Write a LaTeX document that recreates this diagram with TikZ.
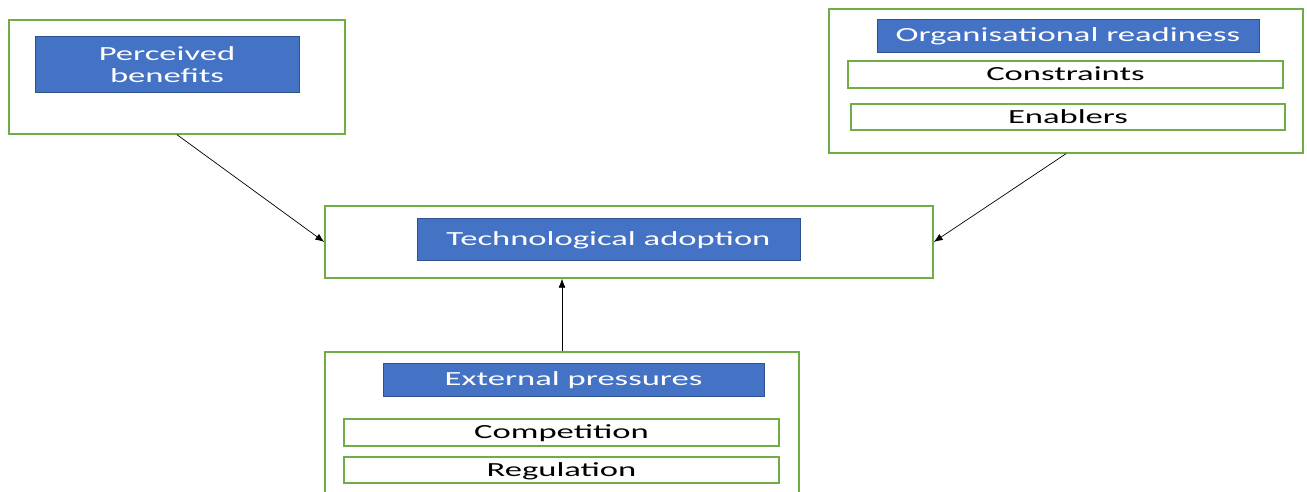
\documentclass[tikz,border=0pt]{standalone}
\usepackage{fontspec}
\newfontfamily\dfont[FakeStretch=1.73]{Carlito}
\usetikzlibrary{arrows.meta}
\definecolor{obox}{HTML}{70AD47}
\definecolor{bfill}{HTML}{4472C4}
\definecolor{bline}{HTML}{2F528F}
\tikzset{
  outerbox/.style={draw=obox, line width=1.4pt, fill=white, rectangle, inner sep=0pt},
  bluebox/.style={draw=bline, line width=0.6pt, fill=bfill, rectangle, inner sep=0pt, text=white,
    font=\dfont\fontsize{20}{22}\selectfont, text height=12.9pt, text depth=0pt},
  itembox/.style={draw=obox, line width=1.2pt, fill=white, rectangle, inner sep=0pt, text=black,
    font=\dfont\fontsize{20}{22}\selectfont, text height=12.9pt, text depth=0pt},
  conn/.style={draw=black, line width=0.7pt, -{Latex[length=9pt,width=7pt]}}
}
\begin{document}
\begin{tikzpicture}[x=1pt,y=-1pt]
\useasboundingbox (0,0) rectangle (1307,491);
% Perceived benefits
\node[outerbox, minimum width=336pt, minimum height=114pt] (pbo) at (177,77) {};
\node[bluebox, minimum width=264pt, minimum height=56pt, text height=, text depth=, align=center] (pbb) at (167,64.5) {Perceived\\benefits};
% Organisational readiness
\node[outerbox, minimum width=474pt, minimum height=144pt] (oro) at (1066,81) {};
\node[bluebox, minimum width=382pt, minimum height=33pt] (orb) at (1068,35.5) {Organisational readiness};
\node[itembox, minimum width=435pt, minimum height=27pt] (con) at (1065.5,74.5) {Constraints};
\node[itembox, minimum width=434pt, minimum height=26pt] (ena) at (1068,117) {Enablers};
% Technological adoption
\node[outerbox, minimum width=608pt, minimum height=72pt] (teo) at (629,242) {};
\node[bluebox, minimum width=383pt, minimum height=42pt] (teb) at (608.5,239.5) {Technological adoption};
% External pressures
\node[outerbox, minimum width=474pt, minimum height=150pt] (exo) at (562,427) {};
\node[bluebox, minimum width=381pt, minimum height=33pt] (exb) at (573.5,379.5) {External pressures};
\node[itembox, minimum width=435pt, minimum height=27pt] (com) at (561.5,432.5) {Competition};
\node[itembox, minimum width=435pt, minimum height=26pt] (reg) at (561.5,470) {Regulation};
% connectors
\draw[conn] (pbo.south) -- (teo.west);
\draw[conn] (oro.south) -- (teo.east);
\draw[conn] (exo.north) -- (exo.north |- teo.south);
\end{tikzpicture}
\end{document}
